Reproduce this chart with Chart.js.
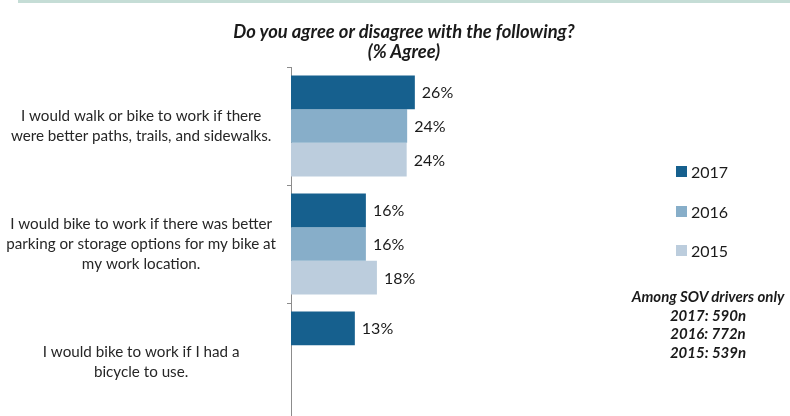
<!DOCTYPE html>
<html>
<head>
<meta charset="utf-8">
<script src="https://cdn.jsdelivr.net/npm/chart.js@4.4.1/dist/chart.umd.min.js"></script>
<style>
html,body{margin:0;padding:0;background:#fff;overflow:hidden;}
#wrap{position:relative;width:790px;height:425px;}
#topbar{position:absolute;left:18px;top:0;width:772px;height:3px;background:#c5ddd6;}
#title{position:absolute;left:154px;width:500px;top:21px;text-align:center;font:italic bold 18.4px Lato,sans-serif;color:#1a1a1a;line-height:20px;}
#legend{position:absolute;left:676px;top:162px;font:16px Lato,sans-serif;color:#1a1a1a;}
#legend .item{height:39.5px;display:flex;align-items:flex-start;}
#legend .sw{width:11px;height:11px;margin-top:4px;margin-right:4px;}
#note{position:absolute;left:558px;width:300px;top:287px;text-align:center;font:italic bold 15px Lato,sans-serif;color:#1a1a1a;line-height:18.5px;}
</style>
</head>
<body>
<div id="wrap">
<div id="topbar"></div>
<div id="title"></div>
<canvas id="chart" width="790" height="425"></canvas>
<div id="legend"></div>
<div id="note"></div>
</div>
<script>
// chart data
var categories = [
['I would walk or bike to work if there','were better paths, trails, and sidewalks.'],
['I would bike to work if there was better','parking or storage options for my bike at','my work location.'],
['I would bike to work if I had a','bicycle to use.']
];
var years = ['2017','2016','2015'];
var values2017 = [25.8, 15.6, 13.3];
var values2016 = [24.2, 15.6, null];
var values2015 = [24.1, 17.9, null];
var colors = ['#16608e','#87aec9','#bccddd'];
var titleLines = ['Do you agree or disagree with the following?','(% Agree)'];
var noteLines = ['Among SOV drivers only','2017: 590n','2016: 772n','2015: 539n'];

document.getElementById('title').innerHTML = titleLines.join('<br>');
document.getElementById('note').innerHTML = noteLines.join('<br>');
var legendHtml = '';
years.forEach(function(y,i){
legendHtml += '<div class="item"><div class="sw" style="background:'+colors[i]+'"></div><span>'+y+'</span></div>';
});
document.getElementById('legend').innerHTML = legendHtml;

// draws the % label at the end of each bar
var barLabels = {
id:'barLabels',
afterDatasetsDraw:function(chart){
var ctx = chart.ctx;
ctx.save();
ctx.font = '16px Lato, sans-serif';
ctx.fillStyle = '#1a1a1a';
ctx.textAlign = 'left';
ctx.textBaseline = 'middle';
chart.data.datasets.forEach(function(ds,i){
var meta = chart.getDatasetMeta(i);
meta.data.forEach(function(bar,j){
var v = ds.data[j];
if(v === null || v === undefined) return;
ctx.fillText(Math.round(v)+'%', bar.x+7, bar.y+1);
});
});
ctx.restore();
}
};

new Chart(document.getElementById('chart').getContext('2d'),{
type:'bar',
data:{
labels:categories,
datasets:[
{label:years[0],data:values2017,backgroundColor:colors[0]},
{label:years[1],data:values2016,backgroundColor:colors[1]},
{label:years[2],data:values2015,backgroundColor:colors[2]}
]
},
options:{
indexAxis:'y',
responsive:false,
animation:false,
events:[],
layout:{padding:{left:0,top:67,right:259,bottom:4}},
datasets:{bar:{barPercentage:1,categoryPercentage:0.857,borderWidth:0}},
plugins:{legend:{display:false},title:{display:false},tooltip:{enabled:false}},
scales:{
x:{display:false,min:0,max:50},
y:{
afterFit:function(s){ s.width = 291; s.paddingTop = 0; s.paddingBottom = 0; },
border:{display:true,color:'#8c8c8c',width:1},
grid:{drawOnChartArea:false,tickLength:4,color:'#8c8c8c'},
ticks:{crossAlign:'center',padding:11,color:'#262626',font:{family:'Lato, sans-serif',size:15.2,lineHeight:1.32}}
}
}
},
plugins:[barLabels]
});
</script>
</body>
</html>
